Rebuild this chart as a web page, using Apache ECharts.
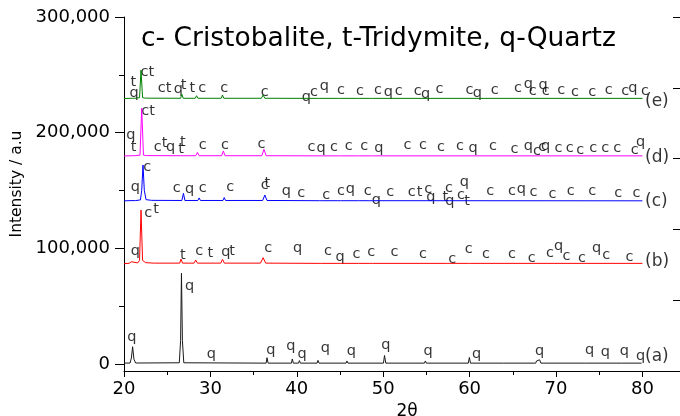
<!DOCTYPE html>
<html><head><meta charset="utf-8">
<script src="https://cdn.jsdelivr.net/npm/echarts@6/dist/echarts.min.js"></script>
<style>html,body{margin:0;padding:0;background:#fff}#c{width:680px;height:416px}</style>
</head><body><div id="c"></div>
<script>
// ---------- axis ticks ----------
const xTicks = [20, 30, 40, 50, 60, 70, 80];
const xMinorTicks = [25, 35, 45, 55, 65, 75];
const yTicks = [0, 100000, 200000, 300000];
const yMinorTicks = [50000, 150000, 250000];
const titleText = 'c- Cristobalite, t-Tridymite, q-Quartz';
const xName = '2θ';
const yName = 'Intensity / a.u';

// ---------- XRD patterns [2θ, intensity] ----------
const curveA = [[20.0,600],[20.7,700],[20.85,5000],[21.0,14800],[21.15,4000],[21.35,700],[26.4,900],[26.55,20000],[26.65,78300],[26.76,20000],[26.92,900],[36.45,600],[36.55,5300],[36.68,600],[39.38,600],[39.48,4200],[39.6,600],[40.2,600],[40.3,2800],[40.42,600],[42.35,600],[42.45,3000],[42.58,600],[45.7,600],[45.8,2500],[45.92,600],[50.03,600],[50.15,7200],[50.3,600],[54.78,600],[54.88,2500],[55.0,600],[59.85,600],[59.97,5500],[60.1,600],[63.95,600],[64.05,1800],[64.15,600],[67.65,600],[67.75,2500],[67.85,1500],[68.1,3500],[68.25,600],[73.38,600],[73.48,2000],[73.58,600],[75.55,600],[75.65,2000],[75.75,600],[77.6,600],[77.7,1800],[77.8,600],[79.9,600]];
const curveB = [[20.0,86600],[20.6,87000],[20.85,88300],[21.05,87300],[21.6,87300],[21.8,89500],[21.97,133000],[22.15,89500],[22.5,87500],[23.5,87100],[26.45,87100],[26.6,90600],[26.78,87100],[28.1,87100],[28.3,89800],[28.5,87100],[31.2,87100],[31.4,90400],[31.62,87100],[35.8,87100],[36.1,91800],[36.4,87100],[42.55,86900],[42.7,88000],[42.85,86900],[44.75,86900],[44.9,88000],[45.05,86900],[46.85,86900],[47.0,88200],[47.15,86900],[48.45,86900],[48.6,88300],[48.75,86900],[57.3,86900],[57.5,87900],[57.7,86900],[59.85,86900],[60.0,88000],[60.15,86900],[80.0,86900]];
const curveC = [[20.0,141000],[21.05,141200],[21.2,142800],[21.35,141200],[21.9,141800],[22.05,150000],[22.2,172000],[22.35,150000],[22.55,142000],[23.2,141400],[26.7,141300],[26.88,147500],[27.05,141300],[28.55,141300],[28.7,143500],[28.85,141300],[31.45,141300],[31.6,143800],[31.75,141300],[36.05,141300],[36.3,146000],[36.55,141300],[42.6,141100],[42.75,142300],[42.9,141100],[44.75,141100],[44.9,142100],[45.05,141100],[46.85,141100],[47.0,142200],[47.15,141100],[48.45,141100],[48.6,142400],[48.75,141100],[57.35,141100],[57.5,142000],[57.65,141100],[80.0,141000]];
const curveD = [[20.0,179800],[20.9,180000],[21.05,181000],[21.2,180000],[21.85,180500],[22.05,221000],[22.25,180600],[22.6,180100],[26.55,180000],[26.7,181500],[26.85,180000],[28.3,180000],[28.5,182900],[28.7,180000],[31.3,180000],[31.5,184100],[31.7,180000],[35.95,180000],[36.2,185500],[36.45,180000],[42.55,179900],[42.7,181200],[42.85,179900],[44.75,179900],[44.9,181000],[45.05,179900],[46.85,179900],[47.0,181300],[47.15,179900],[48.45,179900],[48.6,181500],[48.75,179900],[80.0,179900]];
const curveE = [[20.0,229500],[20.95,229700],[21.1,231200],[21.25,229700],[21.8,230200],[21.97,254100],[22.15,230200],[22.5,229800],[26.55,229700],[26.7,233100],[26.85,229700],[28.25,229700],[28.4,231900],[28.55,229700],[31.25,229700],[31.4,232500],[31.55,229700],[35.9,229700],[36.1,232500],[36.3,229700],[42.5,229600],[42.65,230700],[42.8,229600],[44.8,229600],[44.95,230600],[45.1,229600],[46.85,229600],[47.0,230700],[47.15,229600],[48.45,229600],[48.6,230800],[48.75,229600],[80.0,229600]];

// ---------- peak annotations [2θ, intensity, phase letter] ----------
const labelsA = [[20.9,23400,'q'],[27.6,67300,'q'],[30.1,8200,'q'],[37.0,11900,'q'],[39.3,14800,'q'],[40.6,8700,'q'],[43.3,13400,'q'],[46.3,11300,'q'],[50.3,15700,'q'],[55.2,10500,'q'],[60.8,8200,'q'],[68.1,10500,'q'],[73.9,11900,'q'],[75.7,9900,'q'],[77.9,10500,'q'],[79.8,6700,'q']];
const labelsB = [[21.3,97000,'q'],[22.8,130200,'c'],[23.7,133600,'t'],[26.8,94100,'t'],[28.7,97000,'c'],[30.0,95600,'t'],[31.8,96100,'q'],[32.5,97000,'t'],[36.7,99900,'c'],[40.1,99900,'q'],[43.6,97000,'c'],[45.0,92600,'q'],[46.9,95000,'c'],[48.6,96400,'c'],[51.3,96400,'c'],[54.6,95000,'c'],[58.0,90400,'c'],[59.9,99000,'c'],[61.9,95000,'c'],[64.9,95000,'c'],[67.2,91300,'c'],[69.3,95600,'c'],[70.3,101300,'q'],[71.2,93200,'c'],[73.0,91300,'c'],[74.7,99900,'q'],[75.8,94100,'c'],[78.5,92600,'c']];
const labelsC = [[21.3,152700,'q'],[22.7,170000,'c'],[26.1,151800,'c'],[27.6,150900,'q'],[29.1,151800,'c'],[32.3,152700,'c'],[36.3,154700,'c'],[36.6,156400,'t'],[38.8,148900,'q'],[40.5,147500,'c'],[43.4,145400,'c'],[45.1,148900,'c'],[46.2,150900,'q'],[48.2,149700,'c'],[49.2,141700,'q'],[50.8,148300,'c'],[53.3,148300,'c'],[54.2,148300,'t'],[55.2,150900,'c'],[55.5,144000,'q'],[57.2,144500,'t'],[57.6,151800,'c'],[57.7,140800,'q'],[59.0,146000,'c'],[59.4,156700,'q'],[59.7,140800,'t'],[62.4,148900,'c'],[64.9,149700,'c'],[66.0,150900,'q'],[67.4,148300,'c'],[69.6,146600,'c'],[71.7,148900,'c'],[74.2,148900,'c'],[77.2,147500,'c'],[79.3,147500,'c']];
const labelsD = [[20.8,197900,'q'],[21.1,187300,'t'],[22.8,218900,'ct'],[23.9,187300,'c'],[24.7,190700,'t'],[25.4,187300,'q'],[26.8,192100,'t'],[26.6,185500,'t'],[29.1,189300,'c'],[31.7,189300,'c'],[35.9,190100,'c'],[41.7,187300,'c'],[42.8,186400,'q'],[44.3,187300,'c'],[46.0,188400,'c'],[47.8,187800,'c'],[49.5,186400,'q'],[52.8,189300,'c'],[54.6,189300,'c'],[56.7,187300,'c'],[58.9,188400,'c'],[60.4,186400,'q'],[62.7,187800,'c'],[65.2,185500,'c'],[66.8,188400,'q'],[67.8,184300,'c'],[68.4,187300,'c'],[68.8,188400,'q'],[70.3,186400,'c'],[71.6,186400,'c'],[72.8,184900,'c'],[74.3,186400,'c'],[75.7,186400,'c'],[77.1,186400,'c'],[79.1,184900,'c'],[79.8,191300,'q']];
const labelsE = [[21.08,244000,'t'],[21.16,234000,'q'],[22.7,251800,'ct'],[24.7,238300,'ct'],[26.3,237400,'q'],[26.9,241200,'t'],[27.9,238800,'t'],[29.06,238800,'c'],[31.6,238800,'c'],[36.3,234500,'c'],[41.1,230500,'q'],[42.0,234500,'c'],[43.2,239700,'q'],[45.1,236800,'c'],[47.3,235400,'c'],[49.4,236800,'c'],[50.6,234800,'q'],[51.8,235700,'c'],[54.0,235400,'c'],[54.9,233400,'q'],[56.5,237400,'c'],[60.0,236800,'c'],[60.9,234000,'q'],[62.9,236800,'c'],[65.6,238300,'c'],[66.8,242000,'q'],[67.3,236200,'c'],[68.5,241200,'q'],[68.8,236200,'c'],[70.6,236800,'c'],[72.2,234500,'c'],[74.2,234500,'c'],[76.1,236800,'c'],[78.0,236200,'c'],[78.9,238300,'q'],[80.3,235400,'c']];
// pattern names [2θ, intensity, name]
const patternTags = [[80.3,6700,'(a)'],[80.3,88300,'(b)'],[80.3,140200,'(c)'],[80.3,178600,'(d)'],[80.3,226700,'(e)']];

// ---------- styling ----------
const FONT = 'DejaVu Sans';
const curves = [curveA, curveB, curveC, curveD, curveE];
const colors = ['#1a1a1a', '#ff0000', '#0000ff', '#ff00ff', '#008000'];
const labelSets = [labelsA, labelsB, labelsC, labelsD, labelsE];

const chart = echarts.init(document.getElementById('c'), null, {renderer: 'canvas'});
const lineSeries = curves.map((c, i) => ({
  type: 'line', data: c, xAxisIndex: 0, yAxisIndex: 0,
  showSymbol: false, symbol: 'none', silent: true, animation: false,
  lineStyle: {color: colors[i], width: 1}
}));
const labelSeries = labelSets.map(ls => ({
  type: 'scatter', xAxisIndex: 0, yAxisIndex: 0, symbolSize: 0, animation: false, silent: true,
  data: ls.map(d => ({name: d[2], value: [d[0], d[1]]})),
  itemStyle: {color: 'transparent'},
  label: {show: true, position: 'inside', formatter: '{b}', color: '#000', fontFamily: FONT, fontSize: 14.5}
}));
const tagSeries = {
  type: 'scatter', xAxisIndex: 0, yAxisIndex: 0, symbolSize: 0, animation: false, silent: true,
  data: patternTags.map(d => ({name: d[2], value: [d[0], d[1]]})),
  itemStyle: {color: 'transparent'},
  label: {show: true, position: 'inside', align: 'left', formatter: '{b}', color: '#000', fontFamily: FONT, fontSize: 17}
};

const option = {
  animation: false,
  backgroundColor: '#fff',
  title: {text: titleText, left: 136, top: 21, textStyle: {fontFamily: FONT, fontSize: 26.5, fontWeight: 'normal', color: '#000'}},
  grid: {left: 124, right: 0, top: 17, bottom: 45, containLabel: false, outerBoundsMode: 'none'},
  xAxis: [
    {type: 'value', min: 20, max: 84.35, position: 'bottom',
     name: xName, nameLocation: 'middle', nameGap: 31,
     nameTextStyle: {fontFamily: FONT, fontSize: 17, color: '#000', padding: [0, 0, 0, 10]},
     axisLine: {show: true, onZero: false, lineStyle: {color: '#000', width: 1}},
     axisTick: {show: true, inside: false, length: 6, customValues: xTicks, lineStyle: {color: '#000'}},
     axisLabel: {show: true, customValues: xTicks, margin: 9, fontFamily: FONT, fontSize: 18, color: '#000'},
     splitLine: {show: false}},
    {type: 'value', min: 20, max: 84.35, position: 'bottom',
     axisLine: {show: false, onZero: false},
     axisTick: {show: true, inside: false, length: 4, customValues: xMinorTicks, lineStyle: {color: '#000'}},
     axisLabel: {show: false}, splitLine: {show: false}}
  ],
  yAxis: [
    {type: 'value', min: -6200, max: 300000, position: 'left',
     axisLine: {show: true, onZero: false, lineStyle: {color: '#000', width: 1}},
     axisTick: {show: true, inside: false, length: 9, customValues: yTicks, lineStyle: {color: '#000'}},
     axisLabel: {show: true, customValues: yTicks, margin: 14, fontFamily: FONT, fontSize: 18, color: '#000',
       formatter: v => Number(v).toLocaleString('en-US')},
     splitLine: {show: false}},
    {type: 'value', min: -6200, max: 300000, position: 'left',
     axisLine: {show: false, onZero: false},
     axisTick: {show: true, inside: false, length: 5, customValues: yMinorTicks, lineStyle: {color: '#000'}},
     axisLabel: {show: false}, splitLine: {show: false}},
    {type: 'value', min: 0, max: 5, interval: 1, position: 'right',
     axisLine: {show: false, onZero: false},
     axisTick: {show: true, inside: true, length: 7, lineStyle: {color: '#000'}},
     axisLabel: {show: false}, splitLine: {show: false}}
  ],
  graphic: [
    {type: 'text', x: 17, y: 184, rotation: Math.PI / 2,
     style: {text: yName, fontFamily: FONT, fontSize: 15.5, fill: '#000', textAlign: 'center', textVerticalAlign: 'middle'}}
  ],
  series: [...lineSeries, ...labelSeries, tagSeries]
};
chart.setOption(option);
</script>
</body></html>
